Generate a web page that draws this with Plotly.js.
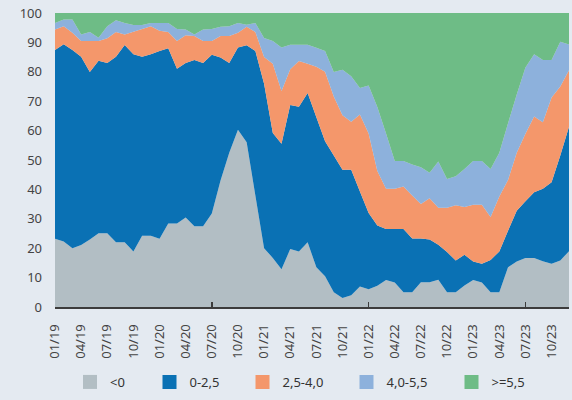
<!DOCTYPE html>
<html>
<head>
<meta charset="utf-8">
<script src="https://cdn.plot.ly/plotly-3.0.1.min.js"></script>
<style>
  html, body { margin: 0; padding: 0; background: #e4eaf1; }
  #chart { width: 572px; height: 400px; }
</style>
</head>
<body>
<div id="chart"></div>
<script>
// Monthly categories 01/19 .. 12/23
const months = [
  "01/19","02/19","03/19","04/19","05/19","06/19","07/19","08/19","09/19","10/19","11/19","12/19",
  "01/20","02/20","03/20","04/20","05/20","06/20","07/20","08/20","09/20","10/20","11/20","12/20",
  "01/21","02/21","03/21","04/21","05/21","06/21","07/21","08/21","09/21","10/21","11/21","12/21",
  "01/22","02/22","03/22","04/22","05/22","06/22","07/22","08/22","09/22","10/22","11/22","12/22",
  "01/23","02/23","03/23","04/23","05/23","06/23","07/23","08/23","09/23","10/23","11/23","12/23"
];

// Tick labels shown (every 3 months)
const tickLabels = ["01/19","04/19","07/19","10/19","01/20","04/20","07/20","10/20",
  "01/21","04/21","07/21","10/21","01/22","04/22","07/22","10/22","01/23","04/23","07/23","10/23"];

// Major tick marks (every 18 months)
const majorTicks = ["01/19","07/20","01/22","07/23"];

// Series names
const seriesNames = ["<0", "0-2,5", "2,5-4,0", "4,0-5,5", ">=5,5"];

// Shares (%) per series
const belowZero = [23.2,22.3,20.0,21.1,23.0,25.1,25.1,22.0,22.0,18.9,24.2,24.2,
  23.2,28.4,28.4,30.4,27.5,27.5,31.8,43.0,52.5,60.3,56.0,37.9,
  20.0,16.7,12.8,19.7,18.9,22.0,13.5,10.5,5.0,3.1,4.0,7.0,
  6.0,7.2,9.2,8.3,5.0,5.0,8.4,8.4,9.3,5.0,5.0,7.3,
  9.2,8.3,5.0,5.0,13.5,15.5,16.7,16.7,15.6,14.7,15.8,19.0];

const zeroTo25 = [64.2,67.1,67.4,64.0,56.9,58.7,57.9,63.1,67.1,67.1,60.9,61.8,
  63.9,59.6,52.6,52.6,56.5,55.5,54.0,41.9,30.5,28.0,33.0,49.2,
  55.9,42.5,42.7,49.0,49.2,50.8,51.0,45.9,46.5,43.6,42.7,32.3,
  26.0,20.5,17.3,18.2,21.5,18.3,14.9,14.6,11.9,13.7,10.8,10.5,
  6.3,6.4,11.0,13.9,12.4,17.2,19.3,22.3,24.6,27.7,35.7,42.3];

const from25To40 = [7.0,6.1,5.9,5.4,10.6,6.7,8.4,8.4,3.6,7.6,9.5,9.5,
  6.9,5.5,9.5,9.4,8.2,7.5,4.7,7.3,9.2,5.0,6.3,6.4,
  9.1,23.5,18.0,12.2,15.6,9.9,17.2,23.6,20.1,18.5,16.3,26.2,
  27.0,18.6,13.7,13.7,14.5,14.6,11.7,14.0,12.6,15.1,18.8,16.2,
  19.3,20.1,14.6,18.7,17.3,19.8,22.9,25.8,22.6,28.9,23.5,19.2];

const from40To55 = [2.2,2.3,4.5,2.2,3.0,1.1,4.1,4.0,3.9,2.3,1.3,1.1,
  2.6,3.1,4.1,2.0,0.5,3.9,4.1,3.1,3.3,3.3,0.7,3.1,
  6.5,7.8,14.8,8.3,5.5,6.5,6.5,7.1,8.3,15.5,15.5,9.0,
  16.3,21.7,18.8,9.5,8.7,10.6,12.5,8.7,15.7,9.7,9.9,12.9,
  14.9,14.9,16.3,14.9,19.3,19.8,22.6,21.2,21.2,12.7,15.2,8.8];

const above55 = [3.4,2.2,2.2,7.3,6.5,8.4,4.5,2.5,3.4,4.1,4.1,3.4,
  3.4,3.4,5.4,5.6,7.3,5.6,5.4,4.7,4.5,3.4,4.0,3.4,
  8.5,9.5,11.7,10.8,10.8,10.8,11.8,12.9,20.1,19.3,21.5,25.5,
  24.7,32.0,41.0,50.3,50.3,51.5,52.5,54.3,50.5,56.5,55.5,53.1,
  50.3,50.3,53.1,47.5,37.5,27.7,18.5,14.0,16.0,16.0,9.8,10.7];

const yTicks = [0,10,20,30,40,50,60,70,80,90,100];

const colors = ["#b2bec4", "#0a71b4", "#f4976b", "#8db1dc", "#6ebc86"];
const seriesValues = [belowZero, zeroTo25, from25To40, from40To55, above55];

const traces = [];
seriesValues.forEach((vals, k) => {
  traces.push({
    type: "scatter",
    x: months,
    y: vals,
    stackgroup: "one",
    mode: "none",
    fillcolor: colors[k],
    line: { width: 0, shape: "linear" },
    name: seriesNames[k],
    showlegend: false,
    hoverinfo: "skip"
  });
});

// Legend entries (square symbols), each in its own legend for exact placement
const legendIds = ["legend", "legend2", "legend3", "legend4", "legend5"];
const legendLeftPx = [70, 149.5, 242.5, 346.5, 451.5];
const plotLeft = 55, plotW = 514, plotTop = 13, plotH = 298;
seriesNames.forEach((nm, k) => {
  traces.push({
    type: "scatter",
    x: [null], y: [null],
    xaxis: "x2",
    mode: "markers",
    marker: { symbol: "square", size: 14, color: colors[k], line: { width: 0 } },
    name: nm,
    legend: legendIds[k],
    showlegend: true,
    hoverinfo: "skip"
  });
});

const font = { family: "Noto Sans, Open Sans, sans-serif", size: 13, color: "#444" };

const layout = {
  width: 572,
  height: 400,
  margin: { l: plotLeft, r: 572 - plotLeft - plotW, t: plotTop, b: 400 - plotTop - plotH },
  paper_bgcolor: "#e4eaf1",
  plot_bgcolor: "#e4eaf1",
  font: font,
  showlegend: true,
  xaxis: {
    type: "category",
    categoryorder: "array",
    categoryarray: months,
    range: [0, months.length - 1],
    tickmode: "array",
    tickvals: tickLabels,
    ticktext: tickLabels,
    tickangle: -90,
    ticks: "",
    showgrid: false,
    zeroline: false,
    showline: true,
    linecolor: "#3c3c3c",
    linewidth: 2,
    ticklabelstandoff: 10,
    tickfont: { family: font.family, size: 13, color: "#444" },
    fixedrange: true
  },
  xaxis2: {
    type: "category",
    categoryorder: "array",
    categoryarray: months,
    overlaying: "x",
    anchor: "y",
    side: "bottom",
    range: [0, months.length - 1],
    tickmode: "array",
    tickvals: majorTicks,
    showticklabels: false,
    ticks: "inside",
    ticklen: 5,
    tickwidth: 1.5,
    tickcolor: "#3c3c3c",
    showgrid: false,
    zeroline: false,
    showline: false,
    fixedrange: true
  },
  yaxis: {
    range: [0, 100],
    tickmode: "array",
    tickvals: yTicks,
    ticks: "",
    showgrid: false,
    zeroline: false,
    showline: false,
    ticklabelstandoff: 12,
    tickfont: { family: font.family, size: 13, color: "#444" },
    fixedrange: true
  }
};

legendIds.forEach((id, k) => {
  layout[id] = {
    orientation: "h",
    x: (legendLeftPx[k] - plotLeft) / plotW,
    xanchor: "left",
    y: (plotTop + plotH - 387) / plotH,
    yanchor: "middle",
    bgcolor: "rgba(0,0,0,0)",
    borderwidth: 0,
    font: { family: font.family, size: 13, color: "#333" },
    itemclick: false,
    itemdoubleclick: false
  };
});

Plotly.newPlot("chart", traces, layout, { displayModeBar: false, staticPlot: true });
</script>
</body>
</html>
